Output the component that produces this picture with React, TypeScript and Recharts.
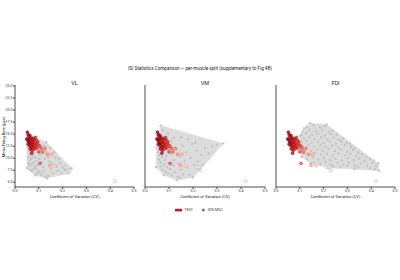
import { ScatterChart, Scatter, XAxis, YAxis } from "recharts";

type Pt = [number, number];

const TITLE = "ISI Statistics Comparison — per-muscle split (supplementary to Fig 4B)";
const PANELS = ["VL", "VM", "FDI"];
const X_TICKS = [0, 0.1, 0.2, 0.3, 0.4, 0.5];
const Y_TICKS = [5, 7.5, 10, 12.5, 15, 17.5, 20, 22.5, 25];

// TEST session (same points shown in every panel): [CV, mean rate]
const TEST: Pt[] = [
  [0.052, 15.4], [0.055, 14.9], [0.058, 14.5], [0.063, 14.7], [0.049, 14.0], [0.053, 13.8],
  [0.057, 13.5], [0.061, 13.9], [0.066, 14.2], [0.07, 13.8], [0.074, 14.1], [0.078, 13.6],
  [0.082, 13.9], [0.086, 14.3], [0.09, 13.7], [0.095, 13.4], [0.06, 13.2], [0.065, 13.0],
  [0.071, 13.3], [0.076, 12.9], [0.081, 13.1], [0.088, 12.8], [0.093, 13.0], [0.099, 12.7],
  [0.055, 12.9], [0.062, 12.6], [0.068, 12.4], [0.074, 12.2], [0.079, 12.6], [0.085, 12.3],
  [0.092, 12.1], [0.104, 12.5], [0.11, 12.0], [0.064, 11.9], [0.072, 11.6], [0.081, 11.9],
  [0.126, 12.0], [0.1, 11.3], [0.116, 11.3], [0.136, 10.8], [0.154, 10.8], [0.07, 11.0],
  [0.105, 8.9], [0.147, 8.5], [0.168, 8.4], [0.214, 8.05], [0.224, 8.05], [0.231, 7.5],
  [0.42, 5.2],
];

// 30% MVC per muscle
const VL_MVC30: Pt[] = [
  [0.049, 13.6], [0.078, 14.5], [0.132, 13.3], [0.238, 7.9], [0.225, 6.8], [0.135, 5.8],
  [0.085, 6.4], [0.05, 7.9], [0.055, 12.2], [0.06, 11.5], [0.065, 10.8], [0.058, 10.2],
  [0.062, 9.6], [0.07, 9.9], [0.075, 10.5], [0.068, 11.9], [0.08, 11.2], [0.085, 10.1],
  [0.09, 9.4], [0.057, 8.9], [0.064, 8.4], [0.072, 8.8], [0.079, 9.1], [0.083, 8.3],
  [0.088, 7.9], [0.061, 7.6], [0.07, 7.3], [0.078, 7.7], [0.094, 8.6], [0.097, 7.4],
  [0.102, 9.8], [0.107, 10.6], [0.112, 9.1], [0.118, 8.2], [0.104, 7.0], [0.11, 6.5],
  [0.12, 7.3], [0.125, 9.9], [0.13, 11.4], [0.14, 10.2], [0.145, 9.3], [0.15, 7.8],
  [0.158, 8.9], [0.16, 6.9], [0.17, 10.1], [0.175, 8.2], [0.18, 7.4], [0.19, 9.0],
  [0.195, 6.9], [0.2, 8.0], [0.21, 7.5], [0.165, 11.3], [0.15, 12.1], [0.12, 12.6],
  [0.095, 11.8], [0.087, 12.7], [0.1, 13.3], [0.14, 6.3], [0.093, 6.8], [0.115, 11.0],
  [0.073, 12.8], [0.185, 9.8], [0.128, 6.1],
];

const VM_MVC30: Pt[] = [
  [0.065, 16.8], [0.326, 13.05], [0.229, 7.5], [0.2, 6.0], [0.132, 5.4], [0.078, 6.5],
  [0.046, 8.1], [0.048, 12.2], [0.055, 11.3], [0.06, 10.6], [0.058, 9.7], [0.065, 9.1],
  [0.07, 10.2], [0.074, 11.0], [0.066, 8.3], [0.072, 7.6], [0.079, 8.7], [0.083, 9.6],
  [0.088, 10.4], [0.092, 8.1], [0.086, 7.2], [0.095, 6.8], [0.1, 9.0], [0.104, 7.7],
  [0.108, 10.9], [0.112, 6.4], [0.118, 8.5], [0.122, 9.6], [0.126, 7.1], [0.131, 11.8],
  [0.136, 6.1], [0.14, 8.9], [0.146, 10.3], [0.15, 7.6], [0.156, 12.6], [0.16, 6.6],
  [0.165, 9.4], [0.172, 11.2], [0.178, 8.0], [0.185, 6.5], [0.19, 10.1], [0.196, 12.9],
  [0.205, 8.6], [0.215, 11.5], [0.22, 9.3], [0.235, 10.6], [0.25, 12.1], [0.265, 11.0],
  [0.28, 12.4], [0.3, 12.8], [0.12, 14.2], [0.095, 15.1], [0.15, 14.3], [0.18, 14.0],
  [0.08, 13.0], [0.1, 12.4], [0.11, 13.5], [0.075, 15.8], [0.21, 13.2], [0.24, 8.6],
  [0.145, 5.9],
];

const FDI_MVC30: Pt[] = [
  [0.143, 17.3], [0.213, 17.0], [0.43, 8.9], [0.433, 7.4], [0.33, 7.8], [0.22, 8.0],
  [0.145, 8.9], [0.108, 10.3], [0.1, 11.8], [0.1, 14.6], [0.118, 16.2],
  [0.13, 16.5], [0.158, 16.8], [0.185, 16.4], [0.205, 16.6],
  [0.112, 15.6], [0.14, 15.9], [0.168, 15.7], [0.195, 15.9], [0.222, 15.5], [0.238, 15.7],
  [0.108, 14.9], [0.127, 15.2], [0.152, 14.8], [0.176, 15.1], [0.205, 14.7], [0.23, 15.0], [0.255, 14.9],
  [0.118, 14.1], [0.14, 14.4], [0.163, 14.0], [0.19, 14.3], [0.215, 13.9], [0.242, 14.2], [0.265, 13.8], [0.283, 14.1],
  [0.105, 13.3], [0.13, 13.6], [0.15, 13.2], [0.178, 13.5], [0.2, 13.1], [0.226, 13.4], [0.252, 13.0], [0.275, 13.5], [0.298, 13.2], [0.31, 13.0],
  [0.114, 12.5], [0.137, 12.8], [0.16, 12.4], [0.186, 12.7], [0.21, 12.3], [0.236, 12.6], [0.262, 12.2], [0.288, 12.7], [0.315, 12.4], [0.33, 12.1],
  [0.104, 11.6], [0.125, 11.9], [0.148, 11.5], [0.172, 11.8], [0.196, 11.4], [0.222, 11.9], [0.247, 11.5], [0.272, 11.8], [0.3, 11.3], [0.325, 11.7], [0.345, 11.2],
  [0.118, 10.9], [0.14, 10.6], [0.165, 11.1], [0.188, 10.7], [0.214, 10.9], [0.238, 10.5], [0.263, 11.0], [0.29, 10.6], [0.312, 10.9], [0.338, 10.4], [0.362, 10.8], [0.38, 10.2],
  [0.13, 9.8], [0.155, 10.1], [0.178, 9.7], [0.2, 10.0], [0.226, 9.6], [0.25, 9.9], [0.276, 9.5], [0.302, 10.0], [0.326, 9.6], [0.35, 9.9], [0.372, 9.4], [0.395, 9.8], [0.41, 9.5],
  [0.16, 9.1], [0.185, 8.8], [0.208, 9.2], [0.232, 8.7], [0.258, 9.0], [0.283, 8.6], [0.306, 9.1], [0.332, 8.5], [0.356, 8.9], [0.382, 8.4], [0.405, 8.9], [0.42, 8.3],
  [0.24, 8.3], [0.27, 8.1], [0.3, 8.4], [0.345, 8.1], [0.395, 7.9], [0.415, 7.7],
];

const MVC30 = [VL_MVC30, VM_MVC30, FDI_MVC30];

// plot-area placement of each panel in the 400x280 frame
const LAYOUT = [
  { left: 15, right: 134 },
  { left: 145, right: 265 },
  { left: 276, right: 395 },
];
const TOP = 85;
const BOTTOM = 187;
const X_AXIS_H = 14;
const Y_AXIS_W = 12;
const FONT = "Roboto, 'DejaVu Sans', sans-serif";

const REDS = ["#fff5f0", "#fee0d2", "#fcbba1", "#fc9272", "#fb6a4a", "#ef3b2c", "#cb181d", "#a50f15", "#67000d"];

function reds(t: number) {
  const v = Math.max(0, Math.min(1, t)) * (REDS.length - 1);
  const i = Math.min(REDS.length - 2, Math.floor(v));
  const f = v - i;
  const a = REDS[i], b = REDS[i + 1];
  const ch = (h: string, k: number) => parseInt(h.slice(1 + 2 * k, 3 + 2 * k), 16);
  const c = [0, 1, 2].map((k) => Math.round(ch(a, k) + (ch(b, k) - ch(a, k)) * f));
  return `rgb(${c[0]},${c[1]},${c[2]})`;
}

function shade(cv: number) {
  return 0.84 * (1 - Math.max(0, Math.min(1, (cv - 0.05) / 0.14)));
}

function convexHull(pts: Pt[]): Pt[] {
  const p = [...pts].sort((a, b) => a[0] - b[0] || a[1] - b[1]);
  const cross = (o: Pt, a: Pt, b: Pt) => (a[0] - o[0]) * (b[1] - o[1]) - (a[1] - o[1]) * (b[0] - o[0]);
  const lower: Pt[] = [];
  for (const q of p) {
    while (lower.length >= 2 && cross(lower[lower.length - 2], lower[lower.length - 1], q) <= 0) lower.pop();
    lower.push(q);
  }
  const upper: Pt[] = [];
  for (let i = p.length - 1; i >= 0; i--) {
    const q = p[i];
    while (upper.length >= 2 && cross(upper[upper.length - 2], upper[upper.length - 1], q) <= 0) upper.pop();
    upper.push(q);
  }
  return lower.slice(0, -1).concat(upper.slice(0, -1));
}

const toRows = (pts: Pt[]) => pts.map(([cv, rate]) => ({ cv, rate }));

const testRows = toRows(TEST).sort((a, b) => shade(a.cv) - shade(b.cv));

const tick = { fontSize: 3.6, fill: "#333", fontFamily: FONT };

function HullLine(props: any) {
  const pts = (props.points || []).map((p: any) => `${p.x},${p.y}`).join(" ");
  return <polygon points={pts} fill="#dcdcdc" stroke="#dcdcdc" strokeWidth={0.5} />;
}

function Panel({ index }: { index: number }) {
  const { left, right } = LAYOUT[index];
  const grey = MVC30[index];
  return (
    <div style={{ position: "absolute", left: 0, top: 0 }}>
      <ScatterChart
        width={400}
        height={280}
        margin={{ top: TOP, right: 400 - right, bottom: 280 - BOTTOM - X_AXIS_H, left: left - Y_AXIS_W }}
      >
        <XAxis
          type="number"
          dataKey="cv"
          domain={[0, 0.5]}
          ticks={X_TICKS}
          tickFormatter={(v: number) => v.toFixed(1)}
          height={X_AXIS_H}
          tick={tick}
          tickSize={2}
          tickMargin={0.5}
          stroke="#222"
          strokeWidth={0.8}
          allowDataOverflow
          label={{ value: "Coefficient of Variation (CV)", position: "insideBottom", offset: 3.5, fontSize: 4, fill: "#222", fontFamily: FONT }}
        />
        <YAxis
          type="number"
          dataKey="rate"
          domain={[4, 25.2]}
          ticks={Y_TICKS}
          tickFormatter={(v: number) => v.toFixed(1)}
          width={Y_AXIS_W}
          tick={index === 0 ? tick : false}
          tickSize={2}
          tickMargin={0.5}
          stroke="#222"
          strokeWidth={0.8}
          allowDataOverflow
        />
        <Scatter
          data={toRows(convexHull(grey))}
          isAnimationActive={false}
          line={(p: any) => <HullLine {...p} />}
          shape={() => <g />}
        />
        <Scatter
          data={toRows(grey)}
          isAnimationActive={false}
          shape={(p: any) => (
            <circle cx={p.cx} cy={p.cy} r={0.85} fill="#d2d2d2" stroke="#a4a4a4" strokeWidth={0.4} />
          )}
        />
        <Scatter
          data={testRows}
          isAnimationActive={false}
          shape={(p: any) => {
            const s = shade(p.payload.cv);
            return (
              <circle
                cx={p.cx}
                cy={p.cy}
                r={1.45}
                fill={reds(s)}
                fillOpacity={0.85}
                stroke={s < 0.02 ? "#aaaaaa" : reds(s + 0.25)}
                strokeWidth={0.45}
              />
            );
          }}
        />
      </ScatterChart>
    </div>
  );
}

export default function App() {
  return (
    <div style={{ position: "absolute", left: 0, top: 0, width: 400, height: 280, background: "#fff" }}>
      {PANELS.map((_, i) => (
        <Panel key={i} index={i} />
      ))}
      <svg width={400} height={280} style={{ position: "absolute", left: 0, top: 0, pointerEvents: "none" }}>
        <text x={200} y={69.5} textAnchor="middle" fontSize={4.6} fill="#222" fontFamily={FONT}>
          {TITLE}
        </text>
        {PANELS.map((name, i) => (
          <text
            key={name}
            x={(LAYOUT[i].left + LAYOUT[i].right) / 2}
            y={85}
            textAnchor="middle"
            fontSize={5.5}
            fill="#222"
            fontFamily={FONT}
          >
            {name}
          </text>
        ))}
        <text
          transform="translate(5,137) rotate(-90)"
          textAnchor="middle"
          fontSize={4}
          fill="#222"
          fontFamily={FONT}
        >
          Mean Firing Rate (pps)
        </text>
        <rect x={175} y={208.8} width={7} height={2.6} fill="#c4161c" />
        <text x={184.5} y={211.3} fontSize={3.6} fill="#333" fontFamily={FONT}>
          TEST
        </text>
        <circle cx={203.3} cy={210.1} r={1.5} fill="#777" />
        <text x={207.5} y={211.3} fontSize={3.6} fill="#333" fontFamily={FONT}>
          30% MVC
        </text>
      </svg>
    </div>
  );
}
